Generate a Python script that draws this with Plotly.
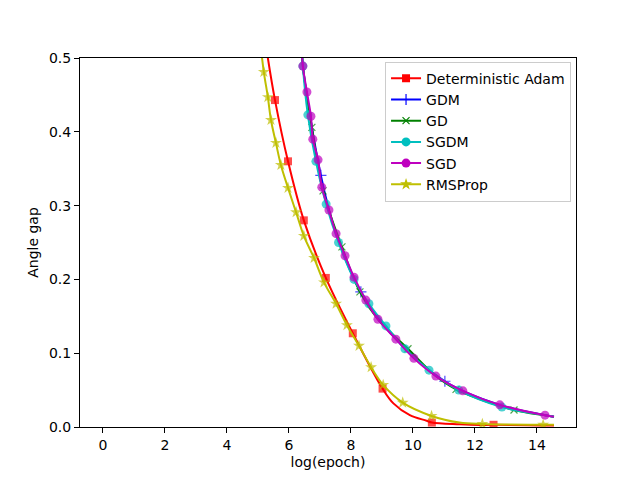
import plotly.graph_objects as go

# line vertices (x = log(epoch), y = angle gap) and marker points per optimizer
adam_line_x = [5.20, 5.32, 9.37, 9.90, 10.44, 11.50, 12.16, 14.55]
adam_line_y = [0.535, 0.500, 0.032, 0.016, 0.0085, 0.0036, 0.0027, 0.002]
adam_mark_x = [5.55, 5.97, 6.48, 7.19, 8.06, 9.02, 10.61, 12.60]
adam_mark_y = [0.443, 0.360, 0.280, 0.202, 0.127, 0.052, 0.006, 0.003]

gdm_line_x = [6.40, 6.45, 7.52, 9.45, 12.80, 14.55]
gdm_line_y = [0.530, 0.489, 0.262, 0.119, 0.030, 0.014]
gdm_mark_x = [7.03, 8.32, 11.03]
gdm_mark_y = [0.341, 0.183, 0.062]

gd_line_x = [6.40, 6.45, 8.87, 10.74, 14.26, 14.55]
gd_line_y = [0.530, 0.489, 0.146, 0.069, 0.016, 0.014]
gd_mark_x = [6.74, 7.10, 7.71, 8.29, 9.84, 11.39, 13.26]
gd_mark_y = [0.406, 0.320, 0.244, 0.183, 0.106, 0.051, 0.023]

sgdm_line_x = [6.40, 14.26, 14.55]
sgdm_line_y = [0.530, 0.016, 0.014]
sgdm_mark_x = [6.45, 6.61, 6.87, 7.20, 7.60, 8.10, 8.58, 9.13, 9.74, 10.52, 11.48, 12.87]
sgdm_mark_y = [0.489, 0.423, 0.360, 0.302, 0.250, 0.200, 0.167, 0.137, 0.106, 0.077, 0.050, 0.027]

sgd_line_x = [6.40, 14.55]
sgd_line_y = [0.530, 0.014]
sgd_mark_x = [6.45, 6.58, 6.71, 6.77, 6.94, 7.06, 7.29, 7.52, 7.81, 8.10, 8.48, 8.87,
              9.45, 10.03, 10.74, 11.61, 12.80, 14.26]
sgd_mark_y = [0.489, 0.454, 0.421, 0.390, 0.362, 0.325, 0.294, 0.262, 0.232, 0.203, 0.172, 0.146,
              0.119, 0.093, 0.069, 0.049, 0.030, 0.016]

rms_line_x = [5.05, 11.50, 14.55]
rms_line_y = [0.530, 0.006, 0.003]
rms_mark_x = [5.19, 5.32, 5.42, 5.58, 5.74, 5.97, 6.23, 6.48, 6.81, 7.13, 7.52, 7.87,
              8.26, 8.65, 9.04, 9.67, 10.60, 12.24, 14.20]
rms_mark_y = [0.481, 0.447, 0.416, 0.385, 0.355, 0.324, 0.291, 0.259, 0.229, 0.196, 0.167, 0.138,
              0.110, 0.081, 0.057, 0.033, 0.015, 0.004, 0.003]

series = [
    ("Deterministic Adam", adam_line_x, adam_line_y, adam_mark_x, adam_mark_y, "#ff0000", "square", 8),
    ("GDM", gdm_line_x, gdm_line_y, gdm_mark_x, gdm_mark_y, "#0000ff", "cross-thin", 8),
    ("GD", gd_line_x, gd_line_y, gd_mark_x, gd_mark_y, "#008000", "x-thin", 7),
    ("SGDM", sgdm_line_x, sgdm_line_y, sgdm_mark_x, sgdm_mark_y, "#00bfbf", "circle", 9),
    ("SGD", sgd_line_x, sgd_line_y, sgd_mark_x, sgd_mark_y, "#bf00bf", "circle", 9),
    ("RMSProp", rms_line_x, rms_line_y, rms_mark_x, rms_mark_y, "#bfbf00", "star", 9),
]

fig = go.Figure()
for name, lx, ly, mx, my, color, symbol, size in series:
    pts = sorted([(x, y, 0) for x, y in zip(lx, ly)] + [(x, y, size) for x, y in zip(mx, my)])
    mline = dict(color=color, width=1.2 if symbol.endswith("thin") else 0)
    fig.add_trace(go.Scatter(
        x=[p[0] for p in pts], y=[p[1] for p in pts], name=name, legendgroup=name,
        showlegend=False, mode="lines+markers",
        line=dict(color=color, width=2, shape="spline", smoothing=1),
        marker=dict(symbol=symbol, size=[p[2] for p in pts], color=color, line=mline),
    ))
    # legend entry with a single marker size
    fig.add_trace(go.Scatter(
        x=[None], y=[None], name=name, legendgroup=name, mode="lines+markers",
        line=dict(color=color, width=2),
        marker=dict(symbol=symbol, size=size, color=color, line=mline),
    ))

font = dict(family="DejaVu Sans", size=14, color="black")
axis = dict(showline=True, linecolor="black", linewidth=1, mirror=True, ticks="outside",
            ticklen=5, tickwidth=1, tickcolor="black", showgrid=False, zeroline=False,
            tickfont=font)

# page body has an 8px margin, so the figure is shrunk and shifted to keep the axes in place
fig.update_layout(
    width=632, height=472, paper_bgcolor="white", plot_bgcolor="white", font=font,
    margin=dict(l=72, r=64, t=50, b=53),
    xaxis=dict(axis, range=[-0.74, 15.26], dtick=2, tick0=0,
               title=dict(text="log(epoch)", font=font, standoff=5)),
    yaxis=dict(axis, range=[0, 0.5], dtick=0.1, tickformat=".1f",
               title=dict(text="Angle gap", font=font, standoff=7)),
    legend=dict(x=0.99, y=0.99, xanchor="right", yanchor="top", bgcolor="rgba(255,255,255,0.8)",
                bordercolor="#cccccc", borderwidth=1, font=font, tracegroupgap=0),
    showlegend=True,
)

fig.write_html("out.html")
